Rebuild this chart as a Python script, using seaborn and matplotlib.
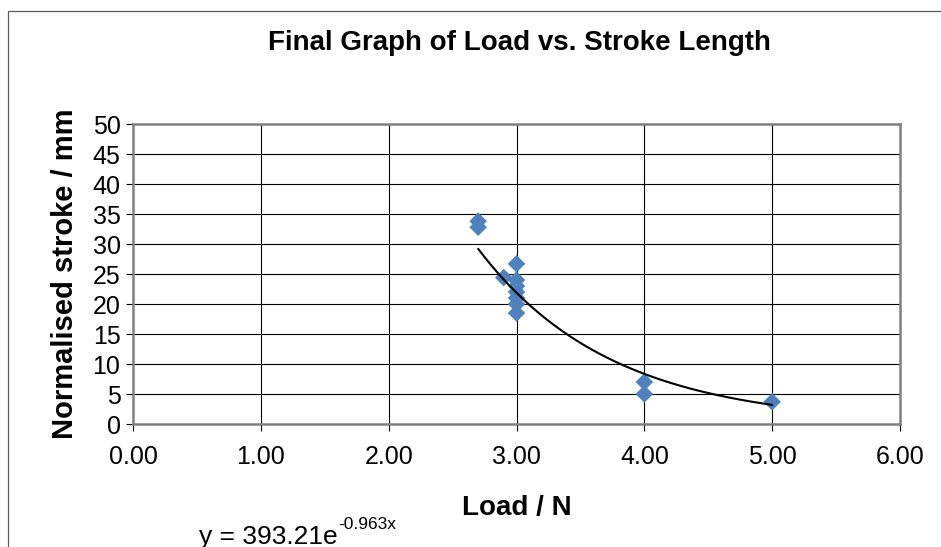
import numpy as np
import pandas as pd
import matplotlib
matplotlib.use("Agg")
import matplotlib.pyplot as plt
import seaborn as sns
from matplotlib.patches import Rectangle
from matplotlib.transforms import offset_copy

# data
load_n = [2.7, 2.7, 2.9, 3.0, 3.0, 3.0, 3.0, 3.0, 3.0, 3.0, 4.0, 4.0, 5.0]
stroke_mm = [33.8, 32.8, 24.4, 26.7, 24.0, 23.0, 22.0, 21.0, 20.0, 18.5, 7.0, 5.0, 3.7]

# exponential trendline shown on the chart: y = a * exp(b * x)
trend_a = 393.21
trend_b = -0.963

x_ticks = [0, 1, 2, 3, 4, 5, 6]
y_ticks = [0, 5, 10, 15, 20, 25, 30, 35, 40, 45, 50]

df = pd.DataFrame({"Load": load_n, "Stroke": stroke_mm})

sns.set_theme(style="white")
plt.rcParams["font.family"] = ["Liberation Sans", "DejaVu Sans"]
plt.rcParams["text.color"] = "black"
plt.rcParams["axes.labelcolor"] = "black"

fig = plt.figure(figsize=(9.41, 5.47), dpi=100)
ax = fig.add_axes([133 / 941, 1 - 424 / 547, (900 - 133) / 941, (424 - 124) / 547])

# chart frame (excel style border)
fig.patches.append(Rectangle((8 / 941, -0.05), 1.0, 1 - 11 / 547 + 0.05,
                             transform=fig.transFigure, fill=False,
                             edgecolor="#5a5a5a", linewidth=0.9, zorder=0))

# gridlines
for yv in y_ticks[1:-1]:
    ax.axhline(yv, color="black", linewidth=0.8, zorder=1)
for xv in x_ticks[1:-1]:
    ax.axvline(xv, color="black", linewidth=0.8, zorder=1)

sns.scatterplot(data=df, x="Load", y="Stroke", marker="D", s=80,
                color="#4F81BD", edgecolor="none", ax=ax, zorder=3)

xs = np.linspace(min(load_n), max(load_n), 200)
ax.plot(xs, trend_a * np.exp(trend_b * xs), color="black", linewidth=1.5, zorder=4)

ax.set_xlim(0, 6)
ax.set_ylim(0, 50)
ax.set_xticks(x_ticks)
ax.set_xticklabels([f"{v:.2f}" for v in x_ticks])
ax.set_yticks(y_ticks)
for sp in ax.spines.values():
    sp.set_color("#808080")
    sp.set_linewidth(1.8)
ax.tick_params(axis="both", direction="out", length=5, width=0.8, color="black",
               labelsize=18, colors="black")
ax.tick_params(axis="x", pad=10)
ax.tick_params(axis="y", pad=4)
ax.tick_params(left=True, bottom=True)

ax.set_xlabel("Load / N", fontsize=20, fontweight="bold", labelpad=19)
ax.set_ylabel("Normalised stroke / mm", fontsize=21, fontweight="bold", labelpad=10)

fig.text(519 / 941, 1 - 43 / 547, "Final Graph of Load vs. Stroke Length",
         ha="center", va="center", fontsize=20, fontweight="bold")

# trendline equation, superscript drawn as its own text
eq = fig.text(199 / 941, 0.005, "y = 393.21e", ha="left", va="baseline", fontsize=19)
fig.canvas.draw()
bb = eq.get_window_extent()
fig.text(bb.x1 / fig.bbox.width + 0.001, 0.005, "-0.963x", ha="left", va="baseline",
         fontsize=12.5, transform=offset_copy(fig.transFigure, fig=fig, y=11, units="points"))

fig.savefig("out.png", dpi=100)
